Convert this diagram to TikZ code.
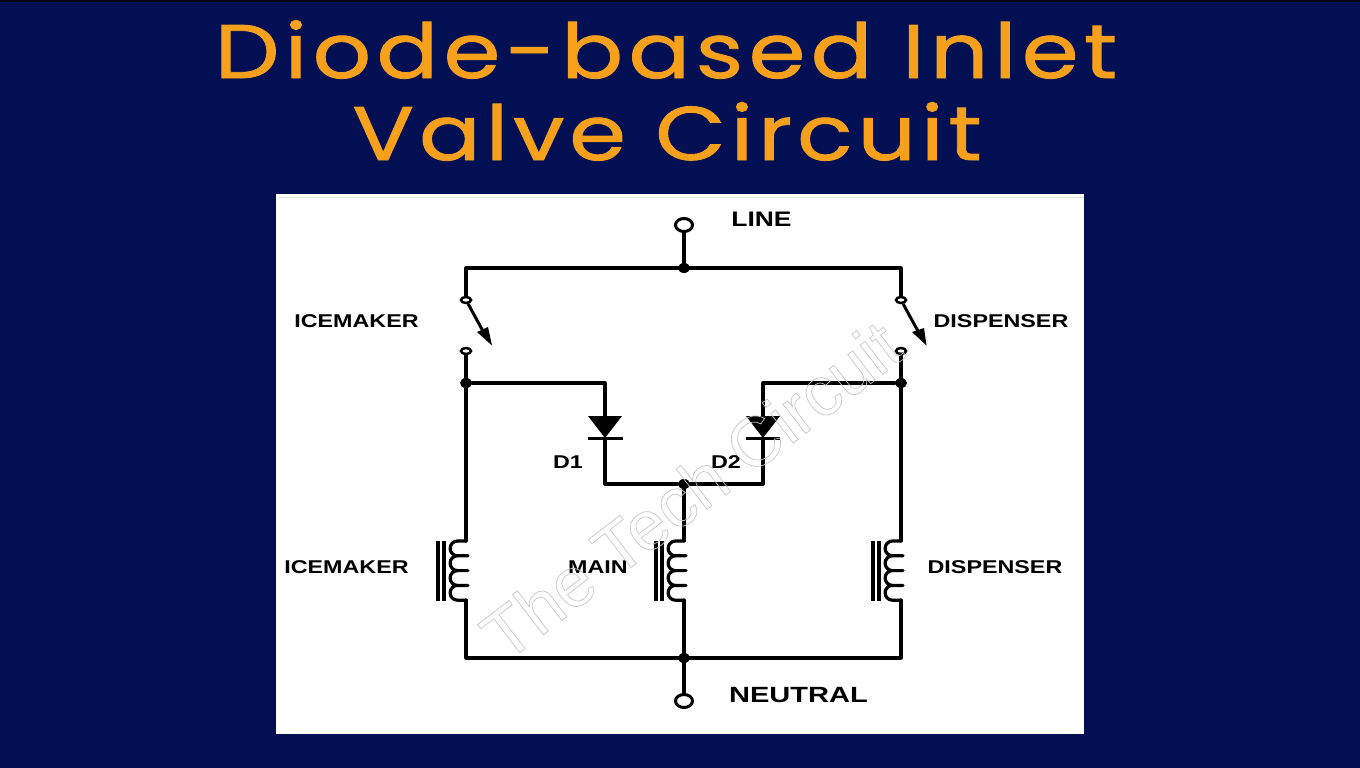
\documentclass[tikz,border=0pt]{standalone}
\usepackage{fontspec}
\setmainfont{Liberation Sans}
\newfontfamily\titlefont{Poppins}
\definecolor{slidebg}{RGB}{2,15,82}
\definecolor{titleorange}{RGB}{247,160,27}
\usetikzlibrary{shapes.geometric}
\tikzset{
    wire/.style={line width=3.2pt, line cap=round, line join=round},
    junction/.style={ellipse, fill=black, inner sep=0pt, minimum width=12pt, minimum height=10pt},
    terminal/.style={ellipse, draw=black, fill=white, line width=3pt, inner sep=0pt, minimum width=17pt, minimum height=13pt},
    contact/.style={ellipse, draw=black, fill=white, line width=2.5pt, inner sep=0pt, minimum width=10pt, minimum height=6pt},
    lbl/.style={font=\bfseries\fontsize{18.5}{20}\selectfont, inner sep=0pt, xscale=1.26},
    biglbl/.style={font=\bfseries\fontsize{22}{24}\selectfont, inner sep=0pt, xscale=1.32},
    titletext/.style={font=\titlefont\fontsize{76}{80}\selectfont, text=titleorange, inner sep=0pt, anchor=base, xscale=1.2}
}
% one valve coil with its two core bars
\newcommand{\valvecoil}[1]{%
    \draw[wire] (#1,541) -- (#1-8.5,541) arc[start angle=90, end angle=270, radius=7.4pt]
        -- (#1+2,555.8) -- (#1-8.5,555.8) arc[start angle=90, end angle=270, radius=7.4pt]
        -- (#1+2,570.6) -- (#1-8.5,570.6) arc[start angle=90, end angle=270, radius=7.4pt]
        -- (#1+2,585.4) -- (#1-8.5,585.4) arc[start angle=90, end angle=270, radius=7.4pt]
        -- (#1,600.2);
    \draw[line width=3.6pt] (#1-28,541) -- (#1-28,601);
    \draw[line width=3.6pt] (#1-22,541) -- (#1-22,601);
}
% outlined glyphs
\newcommand{\titlestroke}{\special{pdf:code 2 Tr 0.8 w 0.969 0.627 0.106 RG}}
\newcommand{\markstroke}{\special{pdf:code 1 Tr 0.7 w 0.78 G}}
\newcommand{\plainstroke}{\special{pdf:code 0 Tr 0 G}}
\begin{document}
\begin{tikzpicture}[x=1pt, y=-1pt]
    \useasboundingbox (0,0) rectangle (1360,768);
    \fill[slidebg] (0,0) rectangle (1360,768);
    \fill[black] (0,0) rectangle (1360,2);
    \fill[white] (276,194) rectangle (1084,734);
    \draw[black!12, line width=1pt] (278,197) -- (1084,197);

    \node[titletext] (title1) at (666,78) {\addfontfeature{LetterSpace=6}\titlestroke Diode-based Inlet\plainstroke};
    \node[titletext] (title2) at (667,160) {\addfontfeature{LetterSpace=5.5}\titlestroke Valve Circuit\plainstroke};

    % supply and switches
    \node[terminal] (line) at (684,225) {};
    \node[junction] (top) at (684,268) {};
    \node[contact] (swla) at (466,300) {};
    \node[contact] (swlb) at (466,351) {};
    \node[contact] (swra) at (901,300) {};
    \node[contact] (swrb) at (901,351) {};
    \node[junction] (jl) at (466,383) {};
    \node[junction] (jr) at (901,383) {};
    \node[junction] (mid) at (684,484) {};
    \node[junction] (bot) at (684,658) {};
    \node[terminal] (neutral) at (684,701) {};

    \coordinate (dla) at (605,416);
    \coordinate (dlb) at (605,438);
    \coordinate (dra) at (763,416);
    \coordinate (drb) at (763,438);

    \draw[wire] (line) -- (top);
    \draw[wire] (swla) -- (466,268) -- (901,268) -- (swra);
    \draw[wire] (swlb) -- (jl);
    \draw[wire] (swrb) -- (jr);
    \draw[wire] (jl) -| (dla);
    \draw[wire] (jr) -| (dra);
    \draw[wire] (dlb) |- (mid);
    \draw[wire] (drb) |- (mid);
    \draw[wire] (mid) -- (684,541);
    \draw[wire] (jl) -- (466,541);
    \draw[wire] (jr) -- (901,541);
    \draw[wire] (466,600) -- (466,658) -- (901,658) -- (901,600);
    \draw[wire] (684,600) -- (neutral);

    % switch blades
    \draw[line width=3pt] (swla) -- (484,333);
    \fill (492,345.5) -- (477,332) -- (488,327) -- cycle;
    \draw[line width=3pt] (swra) -- (919,333);
    \fill (926.5,345.5) -- (912,332) -- (924,328) -- cycle;

    % diodes
    \fill (588,416) -- (622,416) -- (605,438) -- cycle;
    \draw[line width=3pt] (588,438) -- (623,438);
    \fill (746,416) -- (780,416) -- (763,438) -- cycle;
    \draw[line width=3pt] (746,438) -- (780,438);

    \valvecoil{466}
    \valvecoil{684}
    \valvecoil{901}

    \node[lbl] (lline) at (761.5,219) {\fontsize{21}{24}\selectfont LINE};
    \node[biglbl] (lneut) at (798.5,695) {NEUTRAL};
    \node[lbl] (lswl) at (356.5,321.5) {ICEMAKER};
    \node[lbl] (lswr) at (1001,321.5) {DISPENSER};
    \node[lbl] (ld1) at (568,462) {D1};
    \node[lbl] (ld2) at (726,462) {D2};
    \node[lbl] (lcl) at (346.5,567.5) {ICEMAKER};
    \node[lbl] (lcm) at (598,567.5) {MAIN};
    \node[lbl] (lcr) at (995,567.5) {DISPENSER};

    \node[rotate=37.5, inner sep=0pt, font=\fontsize{70}{78}\selectfont] (mark) at (691,490)
        {\markstroke The Tech Circuit\plainstroke};
\end{tikzpicture}
\end{document}
